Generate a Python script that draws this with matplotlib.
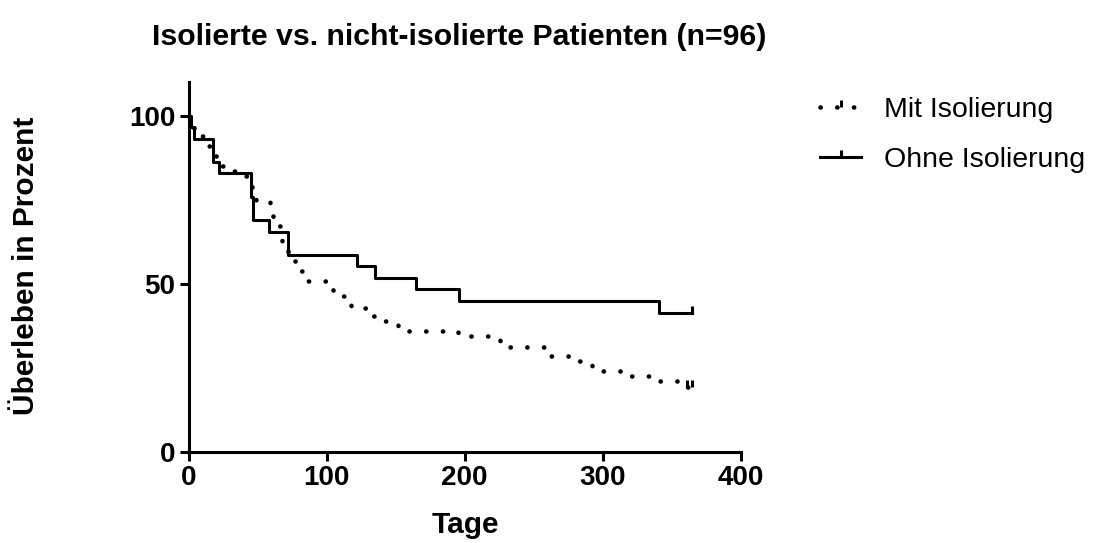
import numpy as np
import matplotlib
matplotlib.use("Agg")
import matplotlib.pyplot as plt
from matplotlib.lines import Line2D

plt.rcParams['font.family'] = ['Liberation Sans', 'DejaVu Sans']

# Kaplan-Meier Daten
mit_tage = [0, 2, 4, 15, 19, 24, 29, 36, 44, 46, 49, 59, 61, 63, 66, 68, 70, 72, 79, 84,
            105, 112, 118, 132, 140, 152, 157, 195, 226, 229, 260, 262, 279, 292, 297,
            317, 336, 360, 365]
mit_surv = [100, 97.0, 94.0, 91.0, 88.1, 85.1, 83.6, 82.1, 80.6, 77.6, 74.6, 71.6, 68.6,
            67.1, 64.1, 61.2, 59.7, 56.7, 53.7, 50.7, 47.8, 46.3, 42.8, 40.3, 38.8, 37.3,
            35.8, 34.3, 32.8, 31.3, 29.9, 28.4, 26.9, 25.4, 23.9, 22.4, 20.9, 19.4, 19.4]
mit_zensiert = [361, 365]
mit_zensiert_surv = [19.4, 19.4]

ohne_tage = [0, 2, 4, 18, 22, 45, 47, 58, 72, 122, 135, 165, 196, 341, 365]
ohne_surv = [100, 96.6, 93.1, 86.2, 82.8, 75.9, 69.0, 65.5, 58.6, 55.2, 51.7, 48.3, 44.8,
             41.4, 41.4]
ohne_zensiert = [365]
ohne_zensiert_surv = [41.4]

x_ticks = [0, 100, 200, 300, 400]
y_ticks = [0, 50, 100]
labels = ['Mit Isolierung', 'Ohne Isolierung']

lw = 2.2
dot_lw = 3.3
dots = (0, (0.05, 3.6))
censor = [(0, 0), (0, 1)]  # Strich nach oben

fig = plt.figure(figsize=(11.02, 5.43), dpi=100)
ax = fig.add_axes([0.1711, 0.1681, 0.5009, 0.6808])

ax.step(mit_tage, mit_surv, where='post', color='black', lw=dot_lw, linestyle=dots,
        dash_capstyle='round', clip_on=False)
ax.plot(mit_zensiert, mit_zensiert_surv, linestyle='none', marker=censor, ms=10,
        mew=lw, color='black', clip_on=False)
ax.step(ohne_tage, ohne_surv, where='post', color='black', lw=lw, clip_on=False)
ax.plot(ohne_zensiert, ohne_zensiert_surv, linestyle='none', marker=censor, ms=10,
        mew=lw, color='black', clip_on=False)

ax.set_xlim(0, 400)
ax.set_ylim(0, 110)
ax.set_xticks(x_ticks)
ax.set_yticks(y_ticks)
for s in ['top', 'right']:
    ax.spines[s].set_visible(False)
for s in ['left', 'bottom']:
    ax.spines[s].set_linewidth(lw)
ax.tick_params(direction='out', length=6.5, width=lw, labelsize=20, pad=3)
for t in ax.get_xticklabels() + ax.get_yticklabels():
    t.set_fontweight('bold')

fig.text(0.4165, 0.932, 'Isolierte vs. nicht-isolierte Patienten (n=96)',
         ha='center', va='center', fontsize=21.8, fontweight='bold')
fig.text(0.024, 0.511, 'Überleben in Prozent', rotation=90, ha='center', va='center',
         fontsize=21.5, fontweight='bold')
fig.text(0.422, 0.033, 'Tage', ha='center', va='center', fontsize=21.5, fontweight='bold')

handles = [
    Line2D([], [], color='black', lw=dot_lw, linestyle=dots, dash_capstyle='round',
           marker=censor, ms=10, mew=lw),
    Line2D([], [], color='black', lw=lw, marker=censor, ms=10, mew=lw),
]
fig.legend(handles, labels, loc='upper left', bbox_to_anchor=(0.744, 0.822),
           frameon=False, fontsize=20.5, handlelength=1.45, handletextpad=0.8,
           labelspacing=0.85, borderpad=0, borderaxespad=0, numpoints=1)

fig.savefig('out.png', dpi=100)
